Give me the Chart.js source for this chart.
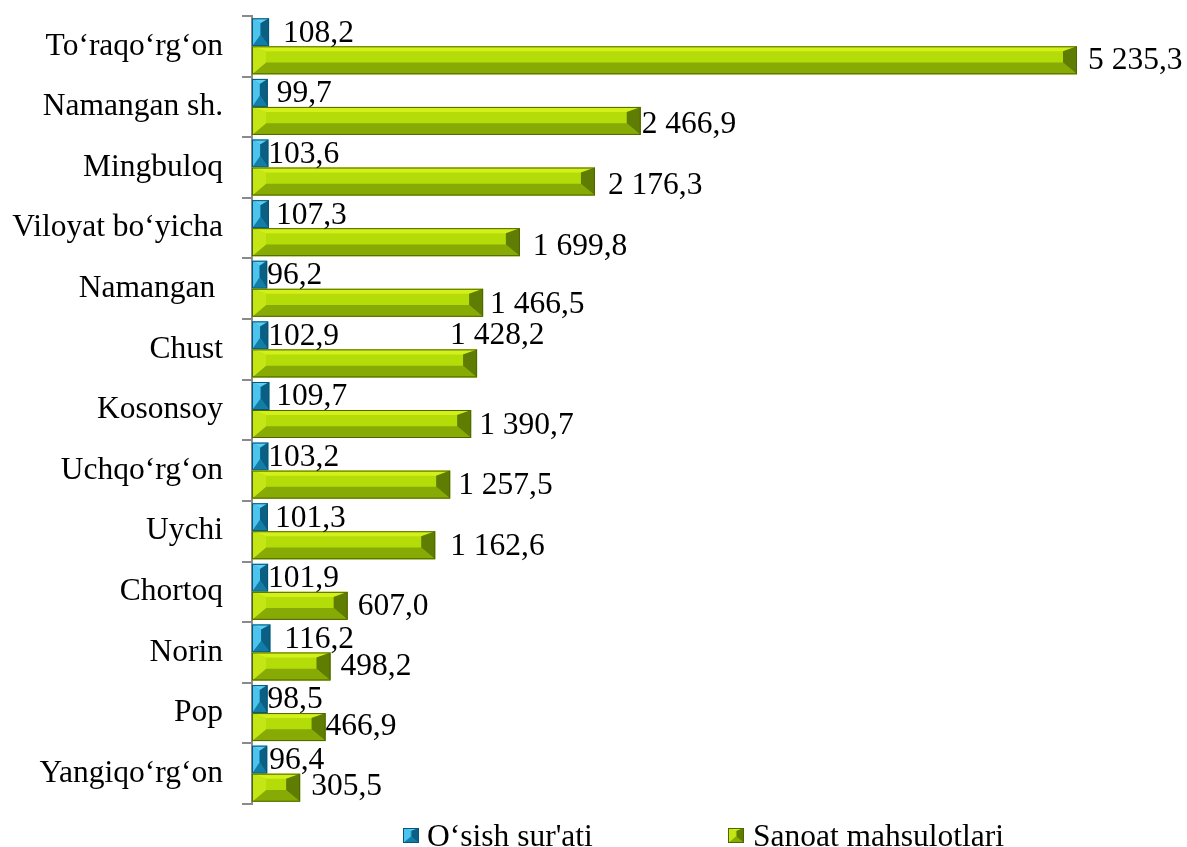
<!DOCTYPE html>
<html>
<head>
<meta charset="utf-8">
<script src="https://cdn.jsdelivr.net/npm/chart.js@4"></script>
<style>
html,body{margin:0;padding:0;background:#fff;}
#wrap{width:1187px;height:847px;position:relative;}
</style>
</head>
<body>
<div id="wrap"><canvas id="c"></canvas></div>
<script>
const categories = ["To‘raqo‘rg‘on","Namangan sh.","Mingbuloq","Viloyat bo‘yicha","Namangan ","Chust","Kosonsoy","Uchqo‘rg‘on","Uychi","Chortoq","Norin","Pop","Yangiqo‘rg‘on"];
const growthRate = [108.2,99.7,103.6,107.3,96.2,102.9,109.7,103.2,101.3,101.9,116.2,98.5,96.4];
const industrialOutput = [5235.3,2466.9,2176.3,1699.8,1466.5,1428.2,1390.7,1257.5,1162.6,607.0,498.2,466.9,305.5];
const seriesNames = ["O‘sish sur'ati","Sanoat mahsulotlari"];

// label nudges (styling only)
const blueLabelDx = [14,9,0,7,0,0,7,0,7,0,14,0,2];
const greenLabelDx = [11,1,13,13,7,-27,8,8,15,10,10,0,11];
const greenLabelDy = [-2,2,2,2,0,-30,0,-1,-1,-1,-2,-2,-3];

const FONT = "'Liberation Serif','Times New Roman',serif";
const FS = 31.5;

const palettes = [
  {center:'#1ea8dc', top:'#5ccff3', left:'#4cc4ee', bottom:'#127ea8', right:'#0b5f82', edge:'#0a5576'},
  {center:'#b4dc08', top:'#d4f01a', left:'#c4e614', bottom:'#88aa04', right:'#5f7d02', edge:'#4e6600'}
];

function fmt(v){
  const s = v.toFixed(1).split('.');
  const int = s[0].replace(/\B(?=(\d{3})+(?!\d))/g, ' ');
  return int + ',' + s[1];
}

function bevelRect(ctx, x0, y0, x1, y1, p){
  const h = y1 - y0, w = x1 - x0;
  const t = h * 0.18, bb = h * 0.42;
  const b = Math.min(h * 0.5, w / 2);
  ctx.save();
  ctx.fillStyle = p.center; ctx.fillRect(x0, y0, w, h);
  const poly = (pts, c) => { ctx.beginPath(); ctx.moveTo(pts[0][0], pts[0][1]); for (let i=1;i<pts.length;i++) ctx.lineTo(pts[i][0], pts[i][1]); ctx.closePath(); ctx.fillStyle = c; ctx.fill(); };
  poly([[x0,y0],[x1,y0],[x1-b,y0+t],[x0+b,y0+t]], p.top);
  poly([[x0,y1],[x1,y1],[x1-b,y1-bb],[x0+b,y1-bb]], p.bottom);
  poly([[x0,y0],[x0+b,y0+t],[x0+b,y1-bb],[x0,y1]], p.left);
  poly([[x1,y0],[x1-b,y0+t],[x1-b,y1-bb],[x1,y1]], p.right);
  ctx.strokeStyle = p.edge; ctx.lineWidth = 1;
  ctx.strokeRect(x0+0.5, y0+0.5, w-1, h-1);
  ctx.restore();
}

const bevelPlugin = {
  id: 'bevel',
  afterDatasetsDraw(chart){
    const ctx = chart.ctx;
    chart.data.datasets.forEach((ds, di) => {
      const meta = chart.getDatasetMeta(di);
      meta.data.forEach((el) => {
        const x0 = Math.min(el.base, el.x), x1 = Math.max(el.base, el.x);
        const y0 = el.y - el.height / 2, y1 = el.y + el.height / 2;
        bevelRect(ctx, x0, y0, x1, y1, palettes[di]);
      });
    });
    ctx.save();
    ctx.font = FS + 'px ' + FONT;
    ctx.fillStyle = '#000';
    ctx.textAlign = 'left';
    ctx.textBaseline = 'alphabetic';
    chart.data.datasets.forEach((ds, di) => {
      const meta = chart.getDatasetMeta(di);
      meta.data.forEach((el, i) => {
        const dx = di === 0 ? blueLabelDx[i] : greenLabelDx[i];
        const dy = di === 0 ? -1 : greenLabelDy[i];
        ctx.fillText(fmt(ds.data[i]), el.x + dx, el.y + dy + FS * 0.33);
      });
    });
    ctx.restore();
  },
  afterDraw(chart){
    const ctx = chart.ctx;
    const items = [{box:403, text:427},{box:728, text:753}];
    ctx.save();
    ctx.font = FS + 'px ' + FONT;
    ctx.textBaseline = 'alphabetic';
    chart.data.datasets.forEach((ds, di) => {
      const it = items[di];
      bevelRect(ctx, it.box, 828, it.box + 16, 843, palettes[di]);
      ctx.fillStyle = '#000';
      ctx.fillText(ds.label, it.text, 846);
    });
    ctx.restore();
  }
};

new Chart(document.getElementById('c'), {
  type: 'bar',
  data: {
    labels: categories,
    datasets: [
      {label: seriesNames[0], data: growthRate, backgroundColor: 'rgba(0,0,0,0)', borderWidth: 0},
      {label: seriesNames[1], data: industrialOutput, backgroundColor: 'rgba(0,0,0,0)', borderWidth: 0}
    ]
  },
  options: {
    indexAxis: 'y',
    responsive: true,
    maintainAspectRatio: false,
    animation: false,
    events: [],
    layout: {padding: {top: 16, bottom: 43, left: 0, right: 21}},
    datasets: {bar: {categoryPercentage: 0.924, barPercentage: 1}},
    plugins: {legend: {display: false}, tooltip: {enabled: false}},
    scales: {
      x: {display: false, min: 0, max: 5800},
      y: {
        afterFit(s){ s.width = 252; s.paddingTop = 0; s.paddingBottom = 0; },
        border: {display: true, color: '#8a8a8a', width: 2},
        grid: {display: true, drawOnChartArea: false, drawTicks: true, tickLength: 10, color: '#8a8a8a', lineWidth: 2, offset: true},
        ticks: {color: '#000', padding: 19, font: {family: FONT, size: FS}}
      }
    }
  },
  plugins: [bevelPlugin]
});
</script>
</body>
</html>
